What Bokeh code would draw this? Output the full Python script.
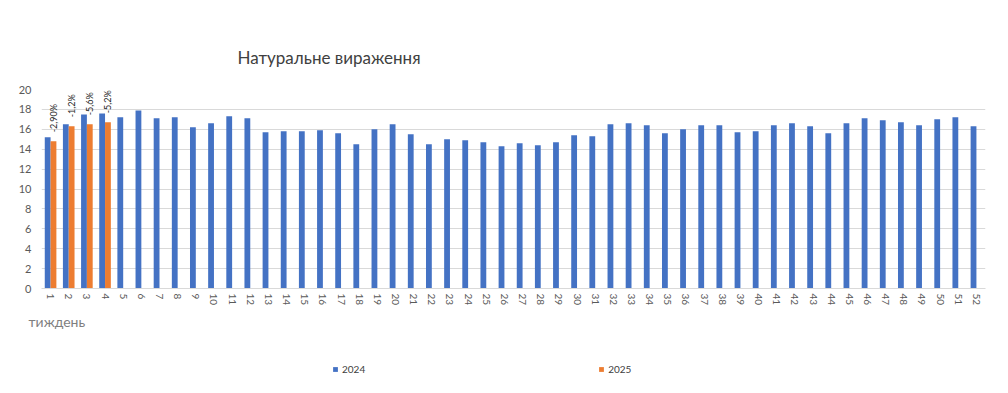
import math
from bokeh.plotting import figure
from bokeh.layouts import column
from bokeh.models import Range1d, FixedTicker, Title, Legend, LegendItem, ColumnDataSource
from bokeh.core.properties import value
from bokeh.embed import file_html
from bokeh.resources import INLINE

weeks = list(range(1, 53))
values_2024 = [15.2, 16.5, 17.5, 17.6, 17.2, 17.9, 17.1, 17.2, 16.2, 16.6,
               17.3, 17.1, 15.7, 15.8, 15.8, 15.9, 15.6, 14.5, 16.0, 16.5,
               15.5, 14.5, 15.0, 14.9, 14.7, 14.3, 14.6, 14.4, 14.7, 15.4,
               15.3, 16.5, 16.6, 16.4, 15.6, 16.0, 16.4, 16.4, 15.7, 15.8,
               16.4, 16.6, 16.3, 15.6, 16.6, 17.1, 16.9, 16.7, 16.4, 17.0,
               17.2, 16.3]
weeks_2025 = [1, 2, 3, 4]
values_2025 = [14.8, 16.3, 16.5, 16.7]
change_labels = ["-2,90%", "-1,2%", "-5,6%", "-5,2%"]
y_ticks = [0, 2, 4, 6, 8, 10, 12, 14, 16, 18, 20]
series_names = ["2024", "2025"]

FONT = "Lato"
BLUE = "#4472C4"
ORANGE = "#ED7D31"

p = figure(width=1000, height=345, output_backend="svg", toolbar_location=None,
           x_range=Range1d(0.5, 52.5), y_range=Range1d(0, 20),
           min_border_left=41, min_border_right=15, min_border_top=89, min_border_bottom=57)
p.outline_line_color = None
p.background_fill_color = "white"
p.border_fill_color = "white"

src24 = ColumnDataSource(dict(x=[w - 0.16 for w in weeks], top=values_2024))
src25 = ColumnDataSource(dict(x=[w + 0.16 for w in weeks_2025], top=values_2025))
p.vbar(x="x", top="top", width=0.32, source=src24, color=BLUE, line_color=None)
p.vbar(x="x", top="top", width=0.32, source=src25, color=ORANGE, line_color=None)

lab_src = ColumnDataSource(dict(x=[w + 0.16 for w in weeks_2025], y=values_2025, t=change_labels))
p.text(x="x", y="y", text="t", source=lab_src, angle=math.pi / 2, y_offset=-9,
       text_align="left", text_baseline="middle", text_font=value(FONT),
       text_font_size="9px", text_color="#262626")

p.xgrid.visible = False
p.ygrid.grid_line_color = "#d9d9d9"
p.ygrid.grid_line_width = 1

p.yaxis.ticker = FixedTicker(ticks=y_ticks)
p.yaxis.axis_line_color = None
p.yaxis.major_tick_line_color = None
p.yaxis.minor_tick_line_color = None
p.yaxis.major_tick_out = 0
p.yaxis.major_tick_in = 0
p.yaxis.major_label_standoff = 10
p.yaxis.major_label_text_font = FONT
p.yaxis.major_label_text_font_size = "11px"
p.yaxis.major_label_text_color = "#595959"

p.xaxis.ticker = FixedTicker(ticks=weeks)
p.xaxis.axis_line_color = "#d9d9d9"
p.xaxis.major_tick_line_color = None
p.xaxis.minor_tick_line_color = None
p.xaxis.major_tick_out = 0
p.xaxis.major_tick_in = 0
p.xaxis.major_label_orientation = "vertical"
p.xaxis.major_label_standoff = 5
p.xaxis.major_label_text_font = FONT
p.xaxis.major_label_text_font_size = "10px"
p.xaxis.major_label_text_color = "#595959"

p.title.text = "Натуральне вираження"
p.title.align = "left"
p.title.offset = 196
p.title.standoff = 43
p.title.text_font = FONT
p.title.text_font_size = "17px"
p.title.text_font_style = "normal"
p.title.text_color = "#404040"

week_title = Title(text="тиждень", align="left", offset=-13, standoff=4,
                   text_font=FONT, text_font_size="14px", text_font_style="normal",
                   text_color="#7f7f7f")
p.add_layout(week_title, "below")

# legend strip below the chart (key glyphs sit outside the visible range)
lg = figure(width=1000, height=40, output_backend="svg", toolbar_location=None,
            x_range=Range1d(0, 1000), y_range=Range1d(0, 40),
            min_border_left=0, min_border_right=0, min_border_top=0, min_border_bottom=0)
lg.axis.visible = False
lg.grid.visible = False
lg.outline_line_color = None
lg.background_fill_color = "white"
lg.border_fill_color = "white"
k24 = lg.vbar(x=[-50], top=[-10], width=1, color=BLUE, line_color=None)
k25 = lg.vbar(x=[-50], top=[-10], width=1, color=ORANGE, line_color=None)
legend = Legend(items=[LegendItem(label=series_names[0], renderers=[k24]),
                       LegendItem(label=series_names[1], renderers=[k25])],
                location=(291, 10), orientation="horizontal", spacing=233,
                padding=0, margin=0, border_line_color=None, background_fill_alpha=0,
                glyph_width=6, glyph_height=6, label_standoff=4, label_height=10,
                label_text_font=FONT, label_text_font_size="10px", label_text_color="#404040")
lg.add_layout(legend)

layout = column(p, lg, spacing=0)
open("out.html", "w").write(file_html(layout, INLINE))
